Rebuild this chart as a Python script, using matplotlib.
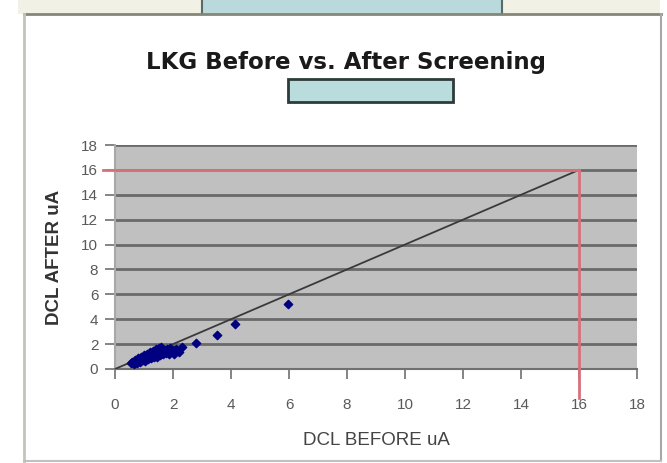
import matplotlib
matplotlib.use("Agg")
import matplotlib.pyplot as plt
from matplotlib.patches import Rectangle
from matplotlib.lines import Line2D

title = "LKG Before vs. After Screening"
xlabel = "DCL BEFORE uA"
ylabel = "DCL AFTER uA"
ticks = [0, 2, 4, 6, 8, 10, 12, 14, 16, 18]

before = [0.55, 0.6, 0.65, 0.7, 0.7, 0.75, 0.8, 0.8, 0.85, 0.9, 0.9, 0.95, 1.0, 1.0,
          1.05, 1.1, 1.1, 1.15, 1.2, 1.2, 1.25, 1.3, 1.3, 1.35, 1.4, 1.4, 1.45, 1.5,
          1.5, 1.55, 1.6, 1.6, 1.65, 1.7, 1.75, 1.8, 1.85, 1.9, 1.95, 2.0, 2.05, 2.1,
          2.2, 2.3, 2.8, 3.5, 4.15, 5.95]
after = [0.45, 0.6, 0.4, 0.55, 0.75, 0.5, 0.65, 0.9, 0.6, 0.75, 1.0, 0.7, 0.8, 1.1,
         0.65, 0.9, 1.2, 0.8, 1.0, 1.35, 0.85, 1.1, 1.45, 0.95, 1.2, 1.6, 1.0, 1.3,
         1.7, 1.1, 1.4, 1.8, 1.2, 1.5, 1.3, 1.6, 1.2, 1.7, 1.4, 1.5, 1.2, 1.6,
         1.4, 1.8, 2.05, 2.7, 3.65, 5.25]

line_x = [0, 16]
line_y = [0, 16]
target = 16

W, H = 667, 463
fig = plt.figure(figsize=(W / 100, H / 100), dpi=100)
fig.patch.set_facecolor("white")

def fx(px):
    return px / W

def fy(py):
    return 1 - py / H

# decorative frame pieces
fig.patches.append(Rectangle((fx(18), fy(14)), fx(642), 14 / H, transform=fig.transFigure,
                             facecolor="#f1f1e6", edgecolor="none", zorder=0))
fig.patches.append(Rectangle((fx(202), fy(14)), fx(300), 14 / H, transform=fig.transFigure,
                             facecolor="#b9d9dd", edgecolor="none", zorder=1))
for xx in (202, 502):
    fig.lines.append(Line2D([fx(xx), fx(xx)], [fy(0), fy(14)], transform=fig.transFigure,
                            color="#5a6a6a", lw=1.5))
fig.lines.append(Line2D([fx(24), fx(661)], [fy(14), fy(14)], transform=fig.transFigure,
                        color="#868678", lw=2))
fig.lines.append(Line2D([fx(24), fx(24)], [fy(14), fy(461)], transform=fig.transFigure,
                        color="#c4c4bc", lw=2))
fig.lines.append(Line2D([fx(661), fx(661)], [fy(14), fy(461)], transform=fig.transFigure,
                        color="#a8a8a8", lw=1.5))
fig.lines.append(Line2D([fx(24), fx(661)], [fy(461), fy(461)], transform=fig.transFigure,
                        color="#c0c0c0", lw=1.5))

# title and legend box
fig.text(fx(346), fy(62), title, ha="center", va="center", fontsize=16.5,
         fontweight="bold", family="DejaVu Sans", color="#1a1a1a")
fig.patches.append(Rectangle((fx(288), fy(102)), fx(165), 23 / H, transform=fig.transFigure,
                             facecolor="#b9dcdc", edgecolor="#2f3a3a", lw=2, zorder=2))

ax = fig.add_axes([fx(115), fy(369), fx(637 - 115), (369 - 145) / H])
ax.set_facecolor("#c0c0c0")
ax.set_xlim(0, 18)
ax.set_ylim(0, 18)
ax.set_xticks(ticks)
ax.set_yticks(ticks)
ax.set_xticklabels([str(t) for t in ticks])
ax.set_yticklabels([str(t) for t in ticks])
for t in ticks:
    ax.axhline(t, color="#6a6a6a", lw=2, zorder=1)
for s in ["top", "right"]:
    ax.spines[s].set_visible(False)
ax.spines["left"].set_color("#a8a8a8")
ax.spines["left"].set_linewidth(1.5)
ax.spines["bottom"].set_color("#707070")
ax.spines["bottom"].set_linewidth(1.5)
ax.tick_params(axis="both", colors="#707070", labelcolor="#5a5a5a", labelsize=11,
               length=7, width=1.2)
ax.tick_params(axis="y", pad=5)
ax.tick_params(axis="x", pad=14)
for lab in ax.get_xticklabels() + ax.get_yticklabels():
    lab.set_family("Liberation Sans")

ax.plot(line_x, line_y, color="#3a3a3a", lw=1.3, zorder=3)
ax.plot([-0.4, target], [target, target], color="#d8707a", lw=2, zorder=3, clip_on=False)
ax.plot([target, target], [-2.3, target], color="#d8707a", lw=2, zorder=3, clip_on=False)
ax.scatter(before, after, marker="D", s=18, color="#000080", edgecolors="#000080",
           zorder=4)

ax.set_xlabel(xlabel, fontsize=13.5, family="Liberation Sans", color="#444444", labelpad=14)
ax.set_ylabel(ylabel, fontsize=13.5, fontweight="bold", family="Liberation Sans",
              color="#333333", labelpad=13)

fig.savefig("out.png", dpi=100)
